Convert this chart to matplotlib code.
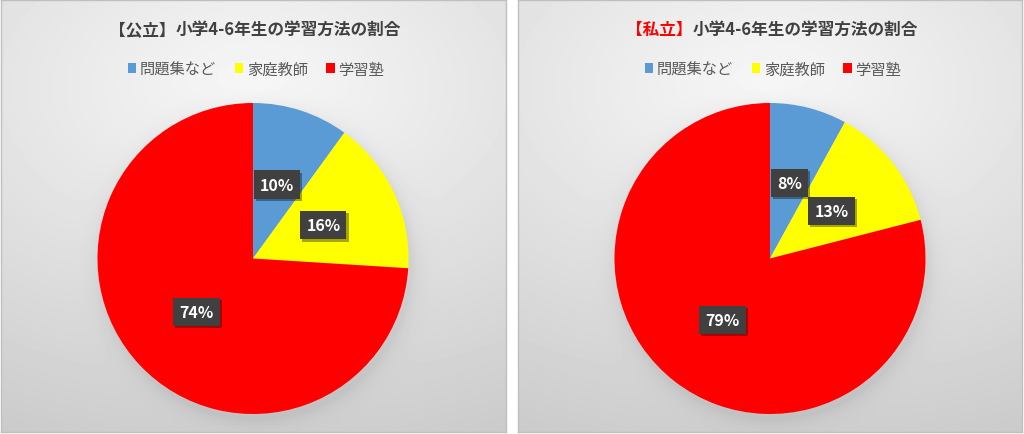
import numpy as np
import matplotlib
matplotlib.use('Agg')
import matplotlib.pyplot as plt
from matplotlib.patches import Patch
import matplotlib.patheffects as pe

plt.rcParams['font.family'] = ['Noto Sans CJK JP', 'DejaVu Sans']

# ---- data ----
categories = ['問題集など', '家庭教師', '学習塾']
public_values = [10, 16, 74]
private_values = [8, 13, 79]
colors = ['#5B9BD5', '#FFFF00', '#FF0000']
title_prefixes = ['【公立】', '【私立】']
title_rest = '小学4-6年生の学習方法の割合'

W, H = 1024, 435
fig = plt.figure(figsize=(W / 100, H / 100), dpi=100)
fig.patch.set_facecolor('white')


def px_axes(x, y_top, w, h, **kw):
    return fig.add_axes([x / W, (H - y_top - h) / H, w / W, h / H], **kw)


panels = [
    dict(x=0.5, w=505, values=public_values, prefix=title_prefixes[0], prefix_color='#404040'),
    dict(x=518, w=504, values=private_values, prefix=title_prefixes[1], prefix_color='#FF0000'),
]
PY, PH = 1, 432
R = 155.5
PIE_CY = 259.5

renderer = fig.canvas.get_renderer()

for p in panels:
    x0, w = p['x'], p['w']
    pcx = w / 2.0
    pcy = PIE_CY - PY
    # background gradient
    yy, xx = np.mgrid[0:PH, 0:int(w)]
    u = xx / w - 0.5
    t = yy / PH - 0.2
    v = 0.97 - 0.2 * np.sqrt((0.75 * u) ** 2 + t ** 2)
    d = np.sqrt((xx - pcx - 2) ** 2 + (yy - pcy - 5) ** 2)
    v = v - 0.06 * np.exp(-np.clip(d - R, 0, None) / 9.0)
    bg = px_axes(x0, PY, w, PH)
    bg.imshow(v, cmap='gray', vmin=0, vmax=1, extent=[0, w, PH, 0],
              aspect='auto', interpolation='bilinear', zorder=0)
    bg.set_xlim(0, w)
    bg.set_ylim(PH, 0)
    bg.set_xticks([])
    bg.set_yticks([])
    for s in bg.spines.values():
        s.set_color('#BFBFBF')
        s.set_linewidth(1.0)

    # title (two colored parts)
    fs_title = 12
    t1 = bg.text(0, 0, p['prefix'], fontsize=fs_title, fontweight='bold', color=p['prefix_color'])
    t2 = bg.text(0, 0, title_rest, fontsize=fs_title, fontweight='bold', color='#404040')
    w1 = t1.get_window_extent(renderer).width
    w2 = t2.get_window_extent(renderer).width
    start = pcx - (w1 + w2) / 2.0 + 2
    ty = 30 - PY
    t1.set_position((start, ty))
    t1.set_va('center')
    t2.set_position((start + w1, ty))
    t2.set_va('center')

    # legend
    handles = [Patch(facecolor=c, edgecolor='none', label=lab) for c, lab in zip(colors, categories)]
    bg.legend(handles=handles, loc='center', bbox_to_anchor=((pcx + 3) / w, 1 - (70 - PY) / PH),
              ncol=3, frameon=False, fontsize=11, handlelength=0.55, handleheight=0.55,
              handletextpad=0.25, columnspacing=1.2, labelcolor='#595959')

    # pie
    cx_abs = x0 + pcx
    pa = px_axes(cx_abs - R, PIE_CY - R, 2 * R, 2 * R)
    pa.set_facecolor('none')
    wedges, texts, autotexts = pa.pie(
        p['values'], colors=colors, startangle=90, counterclock=False, radius=1,
        autopct=lambda q: f'{q:.0f}%', pctdistance=0.5,
        wedgeprops=dict(linewidth=0))
    pa.set_xlim(-1, 1)
    pa.set_ylim(-1, 1)
    pa.axis('off')
    for at in autotexts:
        at.set_color('white')
        at.set_fontweight('bold')
        at.set_fontsize(11.5)
        at.set_bbox(dict(boxstyle='square,pad=0.38', facecolor='#404040', edgecolor='none'))
        at.get_bbox_patch().set_path_effects([
            pe.SimplePatchShadow(offset=(1.5, -1.5), shadow_rgbFace='black', alpha=0.35),
            pe.Normal()])

fig.savefig('out.png', dpi=100, facecolor='white')
